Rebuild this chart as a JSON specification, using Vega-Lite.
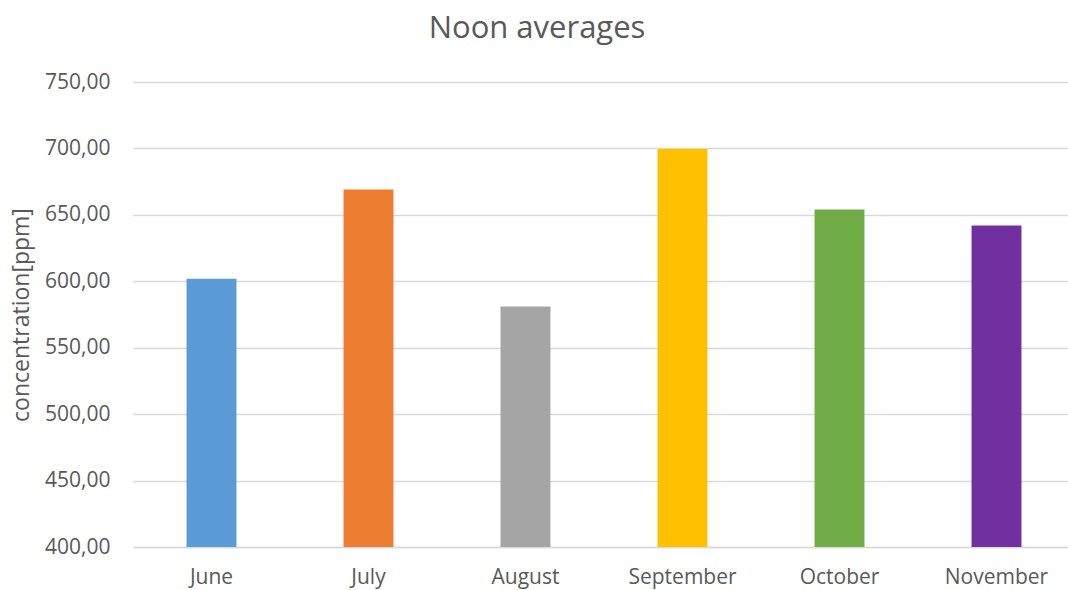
{
  "$schema": "https://vega.github.io/schema/vega-lite/v6.json",
  "autosize": "none",
  "width": 942,
  "height": 465,
  "padding": {"left": 133, "top": 82, "right": 0, "bottom": 43},
  "background": "white",
  "title": {
    "text": "Noon averages",
    "fontSize": 31,
    "font": "Open Sans",
    "fontWeight": "normal",
    "color": "#595959",
    "anchor": "middle",
    "dx": -67,
    "offset": 26
  },
  "data": {
    "values": [
      {"month": "June", "value": 602},
      {"month": "July", "value": 669},
      {"month": "August", "value": 581},
      {"month": "September", "value": 699.5},
      {"month": "October", "value": 654},
      {"month": "November", "value": 642}
    ]
  },
  "mark": {"type": "bar", "clip": true},
  "encoding": {
    "x": {
      "field": "month",
      "type": "nominal",
      "sort": null,
      "title": null,
      "scale": {"paddingInner": 0.682, "paddingOuter": 0.341},
      "axis": {
        "labelAngle": 0,
        "labelFontSize": 21,
        "labelFont": "Open Sans",
        "labelColor": "#595959",
        "labelPadding": 19,
        "ticks": false,
        "domainColor": "#D9D9D9",
        "domainWidth": 1.3
      }
    },
    "y": {
      "field": "value",
      "type": "quantitative",
      "title": "concentration[ppm]",
      "scale": {"domain": [400, 750], "nice": false, "zero": false},
      "axis": {
        "values": [400, 450, 500, 550, 600, 650, 700, 750],
        "labelExpr": "replace(format(datum.value, '.2f'), '.', ',')",
        "labelFontSize": 21,
        "labelFont": "Open Sans",
        "labelColor": "#595959",
        "labelPadding": 23,
        "titleFontSize": 23,
        "titleFont": "Open Sans",
        "titleFontWeight": "normal",
        "titleColor": "#595959",
        "titlePadding": 11,
        "ticks": false,
        "domain": false,
        "grid": true,
        "gridColor": "#D9D9D9",
        "gridWidth": 1.3
      }
    },
    "color": {
      "field": "month",
      "type": "nominal",
      "sort": null,
      "legend": null,
      "scale": {
        "domain": ["June", "July", "August", "September", "October", "November"],
        "range": ["#5B9BD5", "#ED7D31", "#A5A5A5", "#FFC000", "#70AD47", "#7030A0"]
      }
    }
  },
  "config": {"view": {"stroke": null}}
}
